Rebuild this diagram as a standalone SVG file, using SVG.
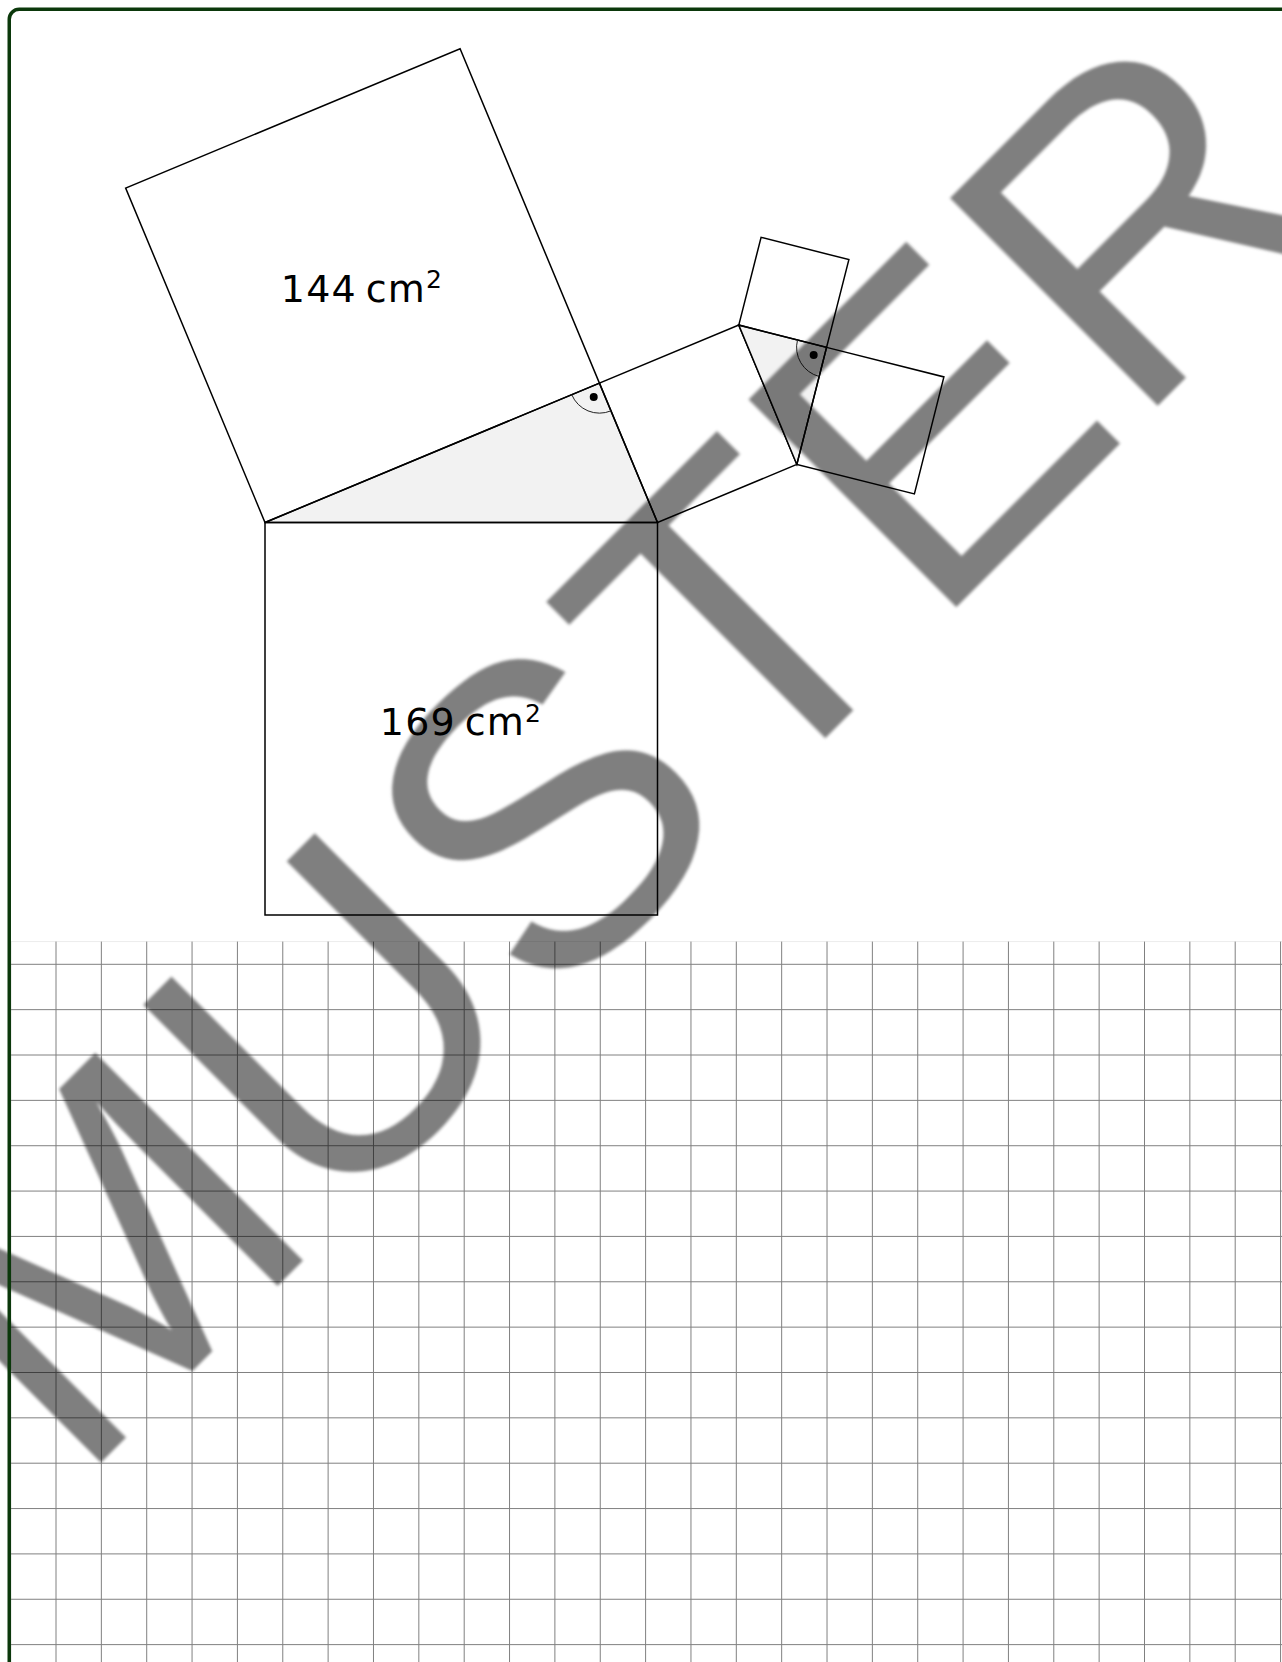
<svg xmlns="http://www.w3.org/2000/svg" width="1282" height="1662" viewBox="0 0 1282 1662">
<defs>
<style>
.edge{fill:none;stroke:#000;stroke-width:1.5;stroke-linejoin:miter}
.tri{fill:#f2f2f2;stroke:#000;stroke-width:1.5}
.arc{fill:none;stroke:#222;stroke-width:1}
.dot{fill:#000}
.lbl{font-family:"DejaVu Sans",sans-serif;font-size:38px;letter-spacing:1.2px;fill:#000}
.grid{fill:none;stroke:#808080;stroke-width:1}
</style>
<filter id="blur" x="-5%" y="-5%" width="110%" height="110%"><feGaussianBlur stdDeviation="1.8"/></filter>
</defs>
<rect width="1282" height="1662" fill="#fff"/>
<g id="grid">
<line x1="10" y1="941.6" x2="1282" y2="941.6" stroke="#ececec" stroke-width="1"/>
<path class="grid" d="M10.65 941.6V1662M56 941.6V1662M101.35 941.6V1662M146.71 941.6V1662M192.06 941.6V1662M237.42 941.6V1662M282.77 941.6V1662M328.12 941.6V1662M373.48 941.6V1662M418.83 941.6V1662M464.19 941.6V1662M509.54 941.6V1662M554.89 941.6V1662M600.25 941.6V1662M645.6 941.6V1662M690.96 941.6V1662M736.31 941.6V1662M781.66 941.6V1662M827.02 941.6V1662M872.37 941.6V1662M917.73 941.6V1662M963.08 941.6V1662M1008.43 941.6V1662M1053.79 941.6V1662M1099.14 941.6V1662M1144.5 941.6V1662M1189.85 941.6V1662M1235.2 941.6V1662M1280.56 941.6V1662"/>
<path class="grid" d="M10 964.3H1282M10 1009.65H1282M10 1055.01H1282M10 1100.36H1282M10 1145.72H1282M10 1191.07H1282M10 1236.42H1282M10 1281.78H1282M10 1327.13H1282M10 1372.49H1282M10 1417.84H1282M10 1463.19H1282M10 1508.55H1282M10 1553.9H1282M10 1599.26H1282M10 1644.61H1282"/>
</g>
<g id="triangle-main"><polygon class="tri" points="265,522.5 657.5,522.5 599.43,383.15"/></g>
<g id="square-hyp"><polygon class="edge" points="265,522.5 657.5,522.5 657.5,915 265,915"/></g>
<g id="square-144"><polygon class="edge" points="265,522.5 599.43,383.15 460.08,48.72 125.65,188.07"/></g>
<g id="square-25"><polygon class="edge" points="599.43,383.15 657.5,522.5 796.85,464.44 738.78,325.09"/></g>
<g id="triangle-small"><polygon class="tri" points="738.78,325.09 826.57,347.39 796.85,464.44"/></g>
<g id="square-9"><polygon class="edge" points="738.78,325.09 761.08,237.3 848.87,259.6 826.57,347.39"/></g>
<g id="square-16"><polygon class="edge" points="826.57,347.39 943.9,376.9 914.4,493.9 796.85,464.44"/></g>
<g id="right-angle-1"><path class="arc" d="M571.74,394.69A30,30 0 0,0 610.97,410.84"/><circle class="dot" cx="593.72" cy="397.02" r="4"/></g>
<g id="right-angle-2"><path class="arc" d="M797.49,340.01A30,30 0 0,0 819.19,376.47"/><circle class="dot" cx="813.67" cy="355.06" r="4"/></g>
<g id="label-144"><text class="lbl" x="362" y="301.5" text-anchor="middle">144&#8201;cm<tspan font-size="25" dy="-13.4">2</tspan></text></g>
<g id="label-169"><text class="lbl" x="461" y="735" text-anchor="middle">169&#8201;cm<tspan font-size="25" dy="-13.4">2</tspan></text></g>
<g id="connectors"/>
<g id="watermark"><text transform="translate(76.2,1487.3) rotate(-45)" font-family="'Liberation Sans',Arial,sans-serif" font-size="427" fill="#000" fill-opacity="0.5" filter="url(#blur)">MUSTER</text></g>
<rect id="frame" x="9.25" y="9.25" width="1400" height="1800" rx="10" ry="10" fill="none" stroke="#0b380b" stroke-width="3.5"/>
</svg>
